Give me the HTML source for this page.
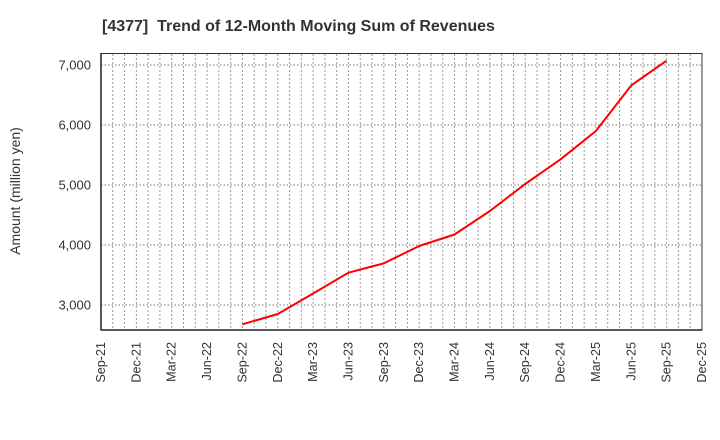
<!DOCTYPE html>
<html><head><meta charset="utf-8"><style>
html,body{margin:0;padding:0;background:#fff;}
svg{display:block;font-family:"Liberation Sans",Arial,sans-serif;}
</style></head><body>
<svg width="720" height="440" viewBox="0 0 720 440" xmlns="http://www.w3.org/2000/svg">
<rect width="720" height="440" fill="#fff"/>
<text x="102" y="31" font-size="16" font-weight="bold" fill="#333" xml:space="preserve">[4377]  Trend of 12-Month Moving Sum of Revenues</text>
<g id="vgrid" stroke="#999" stroke-width="1" stroke-dasharray="2,2"></g>
<g stroke="#777" stroke-width="1" stroke-dasharray="1.5,2">
<line x1="101" y1="65" x2="702" y2="65"/>
<line x1="101" y1="125" x2="702" y2="125"/>
<line x1="101" y1="185" x2="702" y2="185"/>
<line x1="101" y1="245" x2="702" y2="245"/>
<line x1="101" y1="305" x2="702" y2="305"/>
</g>
<rect x="101" y="53.5" width="601" height="276.5" fill="none" stroke="#333" stroke-width="1"/>
<line x1="101" y1="53" x2="101" y2="330.5" stroke="#222" stroke-width="1.5"/>
<line x1="101" y1="330" x2="702" y2="330" stroke="#222" stroke-width="1.5"/>
<g font-size="13" fill="#333" text-anchor="end">
<text x="91" y="69.5">7,000</text>
<text x="91" y="129.5">6,000</text>
<text x="91" y="189.5">5,000</text>
<text x="91" y="249.5">4,000</text>
<text x="91" y="309.5">3,000</text>
</g>
<text transform="translate(20,191) rotate(-90)" font-size="14" fill="#333" text-anchor="middle">Amount (million yen)</text>
<g id="xlabels" font-size="12.6" fill="#333" text-anchor="end"></g>
<polyline fill="none" stroke="#ff0000" stroke-width="2" stroke-linejoin="round" points="242.4,324.3 277.8,314 313.1,293.5 348.5,272.7 383.8,263.3 419.2,246 454.5,234.5 489.9,211 525.2,184 560.6,159.3 595.9,131 631.3,85.3 666.6,60.7"/>
</svg>
<script>
(function(){
var ns="http://www.w3.org/2000/svg";
var g=document.getElementById("vgrid");
var step=601/51;
for(var m=1;m<51;m++){
 var x=101+m*step;
 var l=document.createElementNS(ns,"line");
 l.setAttribute("x1",x);l.setAttribute("x2",x);
 l.setAttribute("y1",54);l.setAttribute("y2",330);
 g.appendChild(l);
}
var labs=["Sep-21","Dec-21","Mar-22","Jun-22","Sep-22","Dec-22","Mar-23","Jun-23","Sep-23","Dec-23","Mar-24","Jun-24","Sep-24","Dec-24","Mar-25","Jun-25","Sep-25","Dec-25"];
var xg=document.getElementById("xlabels");
for(var i=0;i<labs.length;i++){
 var x=101+i*3*step+4;
 var t=document.createElementNS(ns,"text");
 t.setAttribute("transform","translate("+x+",342) rotate(-90)");
 t.textContent=labs[i];
 xg.appendChild(t);
}
})();
</script>
</body></html>
